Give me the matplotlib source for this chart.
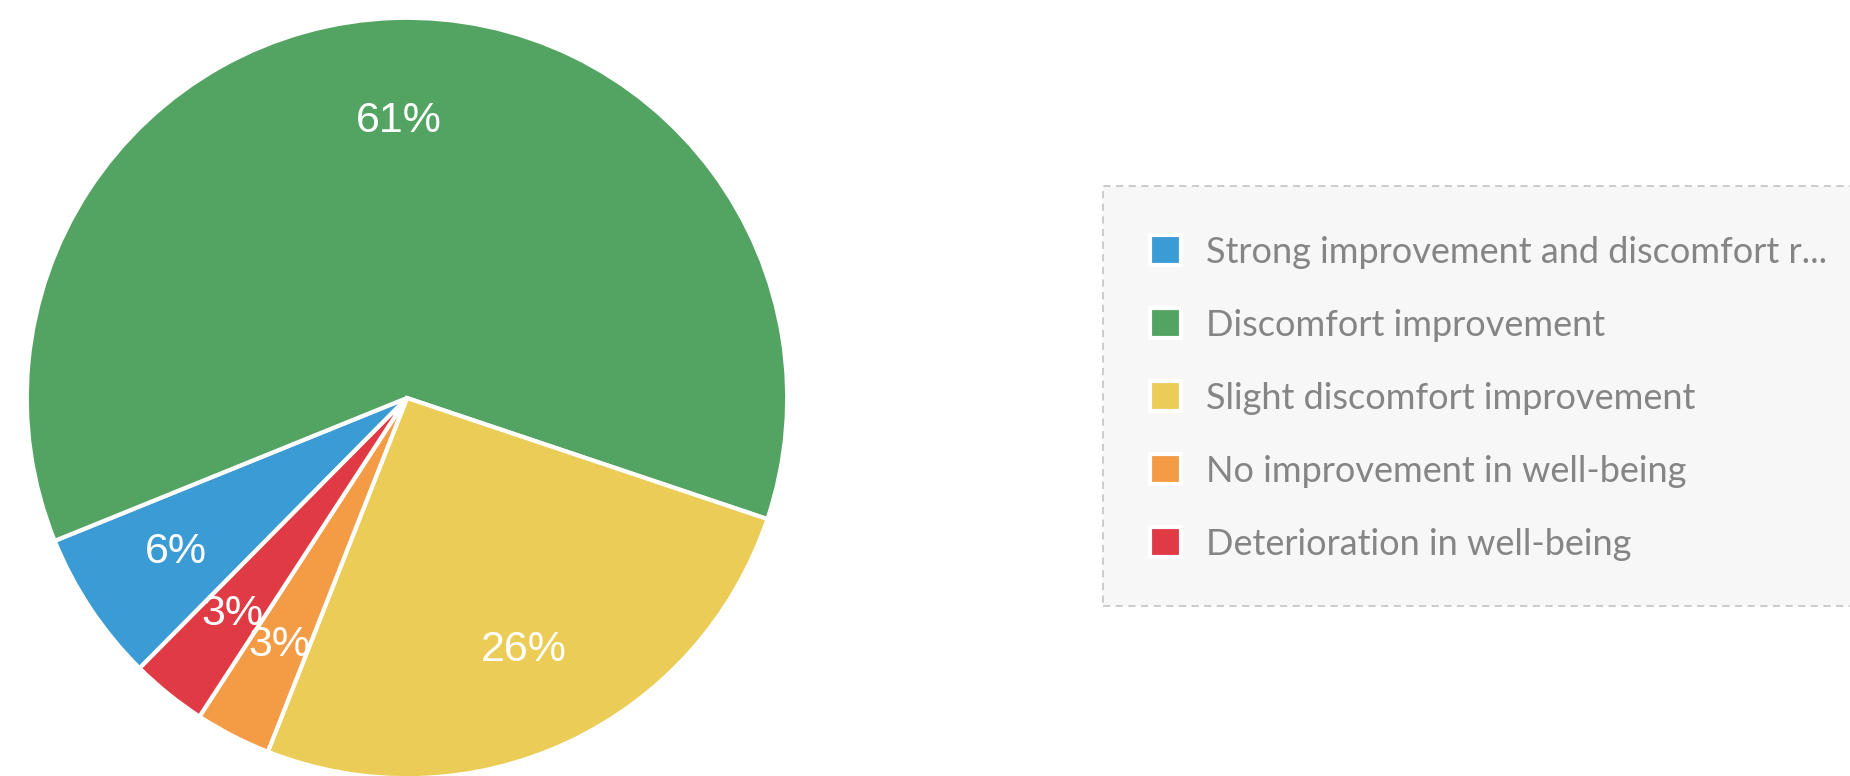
import numpy as np
import matplotlib
matplotlib.use('Agg')
import matplotlib.pyplot as plt
import matplotlib.patches as patches

# responses per category (gives 6 / 61 / 26 / 3 / 3 %)
labels = ['Strong improvement and discomfort r...',
          'Discomfort improvement',
          'Slight discomfort improvement',
          'No improvement in well-being',
          'Deterioration in well-being']
counts = [2, 19, 8, 1, 1]
colors = ['#3b9bd5', '#53a462', '#ebcc56', '#f39c45', '#e03a44']

W, H = 1850, 776
fig = plt.figure(figsize=(W / 100, H / 100), dpi=100)
fig.patch.set_facecolor('white')

# pie axes
cx, cy, r = 407, 378, 384
ax = fig.add_axes([(cx - r) / W, (cy - r) / H, 2 * r / W, 2 * r / H])
wedges, texts, autotexts = ax.pie(
    counts, colors=colors, startangle=-134.7, counterclock=False,
    autopct=lambda p: '%d%%' % round(p), pctdistance=0.73,
    wedgeprops=dict(edgecolor='white', linewidth=3),
    textprops=dict(color='white', fontsize=31, family=['Liberation Sans', 'DejaVu Sans']))
ax.set_xlim(-1.01, 1.01)
ax.set_ylim(-1.01, 1.01)
ax.set_aspect('equal')
ax.axis('off')

# legend background box (dashed, runs off right edge)
box = patches.Rectangle((1103 / W, 1 - 606 / H), (W - 1103 + 20) / W, (606 - 186) / H,
                        transform=fig.transFigure, facecolor='#f7f7f7',
                        edgecolor='#c8c8c8', linestyle=(0, (4, 3)), linewidth=1.3)
fig.patches.append(box)

leg = fig.legend(wedges, labels, loc='upper left',
                 bbox_to_anchor=(1117 / W, 1 - 203 / H),
                 frameon=False, handlelength=0.88, handleheight=0.88,
                 handletextpad=0.68, labelspacing=1.1,
                 prop=dict(family=['Lato', 'DejaVu Sans'], size=26))
for t in leg.get_texts():
    t.set_color('#858585')

fig.savefig('out.png', dpi=100)
